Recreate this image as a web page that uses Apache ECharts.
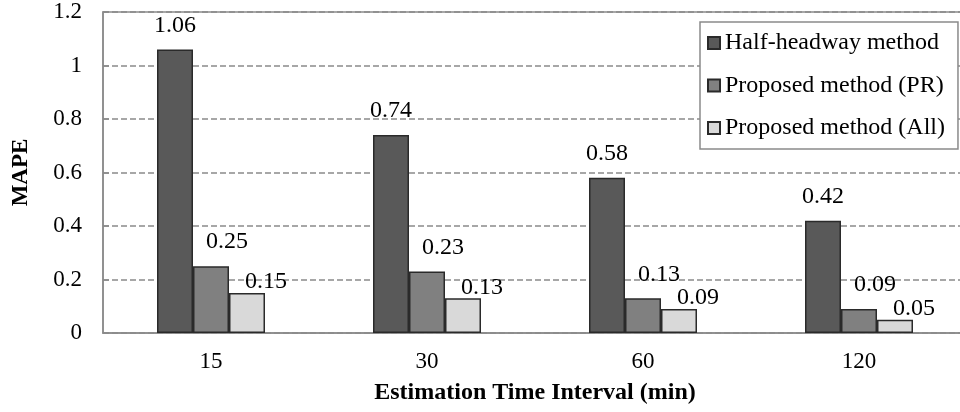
<!DOCTYPE html>
<html>
<head>
<meta charset="utf-8">
<script src="https://cdn.jsdelivr.net/npm/echarts@6/dist/echarts.min.js"></script>
<style>
  html, body { margin: 0; padding: 0; background: #fff; }
  #chart { width: 960px; height: 412px; }
</style>
</head>
<body>
<div id="chart"></div>
<script>
// Estimation time intervals (minutes) on the category axis
const intervals = ['15', '30', '60', '120'];

// MAPE per method
const halfHeadway = [1.06, 0.74, 0.58, 0.42];
const proposedPR = [0.25, 0.23, 0.13, 0.09];
const proposedAll = [0.15, 0.13, 0.09, 0.05];

const seriesNames = ['Half-headway method', 'Proposed method (PR)', 'Proposed method (All)'];

const FONT = '"Liberation Serif", "Times New Roman", serif';
const AXIS_GRAY = '#8a8a8a';
const OUTLINE = '#2a2a2a';

function barSeries(name, values, fill, labelOffset, labelDistance) {
  return {
    name: name,
    type: 'bar',
    data: values,
    barWidth: 36,
    barGap: '0%',
    itemStyle: { color: fill, borderColor: OUTLINE, borderWidth: 1.5 },
    label: {
      show: true,
      position: 'top',
      distance: labelDistance,
      offset: labelOffset,
      fontFamily: FONT,
      fontSize: 24,
      color: '#000',
      formatter: function (p) { return p.value.toFixed(2); }
    }
  };
}

const chart = echarts.init(document.getElementById('chart'), null, { renderer: 'canvas' });

chart.setOption({
  animation: false,
  backgroundColor: '#fff',
  textStyle: { fontFamily: FONT },
  grid: {
    left: 103, right: -7, top: 12, bottom: 79,
    containLabel: false,
    outerBoundsMode: 'none',
    show: true, borderColor: AXIS_GRAY, borderWidth: 1.5, backgroundColor: 'transparent'
  },
  legend: {
    orient: 'vertical',
    left: 700, top: 22,
    data: seriesNames,
    icon: 'rect',
    itemWidth: 12, itemHeight: 12,
    itemGap: 18.5,
    padding: [9, 13, 9, 7],
    backgroundColor: '#fff',
    borderColor: AXIS_GRAY,
    borderWidth: 1.5,
    textStyle: { fontFamily: FONT, fontSize: 24, color: '#000' }
  },
  xAxis: {
    type: 'category',
    data: intervals,
    name: 'Estimation Time Interval (min)',
    nameLocation: 'middle',
    nameGap: 48,
    nameTextStyle: { fontFamily: FONT, fontSize: 24, fontWeight: 'bold', color: '#000' },
    axisLine: { lineStyle: { color: AXIS_GRAY, width: 1.5 } },
    axisTick: { inside: true, length: 6, lineStyle: { color: AXIS_GRAY, width: 1.5 } },
    axisLabel: { margin: 17, fontFamily: FONT, fontSize: 23, color: '#000' },
    splitLine: { show: false }
  },
  yAxis: {
    type: 'value',
    min: 0, max: 1.2, interval: 0.2,
    name: 'MAPE',
    nameLocation: 'middle',
    nameGap: 70,
    nameRotate: 90,
    nameTextStyle: { fontFamily: FONT, fontSize: 23, fontWeight: 'bold', color: '#000' },
    axisLine: { show: true, lineStyle: { color: AXIS_GRAY, width: 1.5 } },
    axisTick: { show: true, inside: true, length: 6, lineStyle: { color: AXIS_GRAY, width: 1.5 } },
    axisLabel: {
      margin: 21, fontFamily: FONT, fontSize: 23, color: '#000',
      formatter: function (v) { return String(Math.round(v * 10) / 10); }
    },
    splitLine: { show: true, lineStyle: { color: AXIS_GRAY, width: 1.5, type: [6, 3] } }
  },
  series: [
    barSeries(seriesNames[0], halfHeadway, '#595959', [0, 0], 12),
    barSeries(seriesNames[1], proposedPR, '#808080', [16, 0], 12),
    barSeries(seriesNames[2], proposedAll, '#d9d9d9', [19, 0], -1)
  ]
});
</script>
</body>
</html>
